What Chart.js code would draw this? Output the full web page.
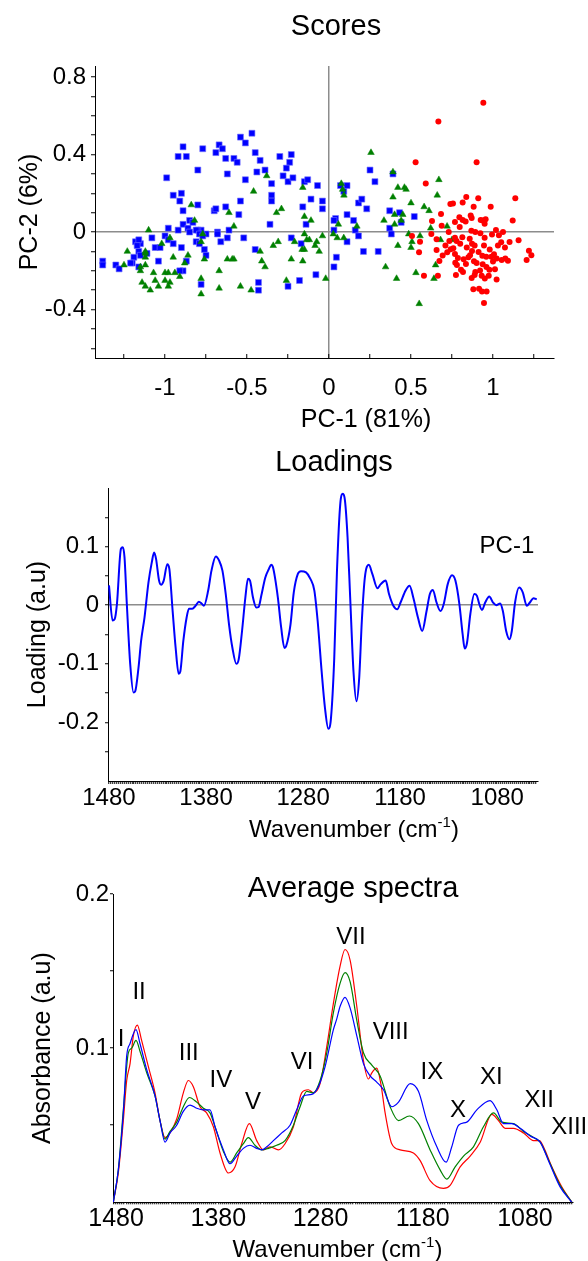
<!DOCTYPE html>
<html>
<head>
<meta charset="utf-8">
<script src="https://cdn.jsdelivr.net/npm/chart.js@4.4.1/dist/chart.umd.min.js"></script>
<style>
  body{margin:0;background:#fff;}
  canvas{position:absolute;left:0;}
</style>
</head>
<body>
<canvas id="scores" width="588" height="440" style="top:0"></canvas>
<canvas id="loadings" width="588" height="410" style="top:440px"></canvas>
<canvas id="spectra" width="588" height="411" style="top:850px"></canvas>
<script>
const FONT = '"Liberation Sans", Arial, sans-serif';

// ---- Scores (PC-1, PC-2) ----
const blueScores = [[-0.47,0.51],[-0.54,0.49],[-0.51,0.46],[-0.67,0.45],[-0.65,0.43],[-0.69,0.41],[-0.77,0.43],[-0.89,0.44],[-0.92,0.39],[-0.87,0.39],[-0.63,0.38],[-0.58,0.38],[-0.56,0.36],[-0.45,0.41],[-0.42,0.37],[-0.39,0.32],[-0.44,0.31],[-0.62,0.30],[-0.80,0.32],[-0.99,0.28],[-0.51,0.27],[-0.30,0.39],[-0.23,0.40],[-0.24,0.36],[-0.26,0.33],[-0.28,0.29],[-0.25,0.26],[-0.22,0.28],[-0.15,0.26],[-0.13,0.27],[-0.07,0.24],[-0.35,0.25],[-0.35,0.19],[-0.35,0.16],[-0.11,0.17],[-0.04,0.16],[-0.04,0.12],[-0.16,0.13],[-0.95,0.19],[-0.90,0.20],[-0.91,0.16],[-0.89,0.11],[-0.80,0.14],[-0.70,0.11],[-0.69,0.12],[-0.63,0.13],[-0.54,0.16],[-0.55,0.09],[-0.36,0.04],[-0.14,0.04],[-0.17,-0.06],[-0.23,-0.03],[-0.52,-0.03],[-0.45,-0.09],[-0.62,-0.03],[-0.66,-0.05],[-0.68,0.00],[-0.68,-0.01],[-0.61,0.01],[-0.75,-0.01],[-0.76,-0.09],[-0.75,-0.12],[-0.78,0.01],[-0.80,0.01],[-0.81,0.01],[-0.85,0.06],[-0.83,0.05],[-0.89,0.04],[-0.86,0.02],[-0.85,0.00],[-0.92,0.01],[-0.98,0.02],[-1.00,-0.02],[-0.98,-0.04],[-0.95,-0.06],[-0.90,-0.08],[-1.08,-0.03],[-1.15,-0.06],[-1.18,-0.05],[-1.16,-0.04],[-1.17,-0.07],[-1.16,-0.10],[-1.15,-0.12],[-1.11,-0.11],[-1.19,-0.13],[-1.20,-0.16],[-1.21,-0.16],[-1.16,-0.18],[-1.06,-0.08],[-1.03,-0.08],[-1.04,-0.15],[-1.38,-0.15],[-1.38,-0.17],[-1.30,-0.17],[-1.28,-0.19],[-0.87,-0.15],[-0.89,-0.20],[-0.91,-0.20],[-0.78,-0.27],[-0.43,-0.26],[-0.43,-0.30],[-0.25,-0.28],[-0.18,-0.25],[-0.08,-0.22],[-0.81,-0.05],[-0.79,-0.06],[-0.79,-0.01],[-0.77,-0.02],
  [0.25,0.32],[0.28,0.26],[0.39,0.30],[0.07,0.24],[0.11,0.24],[0.09,0.21],[0.18,0.15],[0.20,0.17],[0.23,0.12],[0.11,0.09],[0.04,0.07],[0.03,0.06],[0.03,0.01],[0.15,0.06],[0.16,0.01],[0.18,-0.02],[0.11,-0.05],[0.37,0.11],[0.43,0.10],[0.44,0.05],[0.37,0.02],[0.38,-0.01],[0.52,0.08],[0.21,-0.10],[0.30,-0.10],[0.045,-0.13],[0.03,-0.18]];
const greenScores = [[-0.38,0.29],[-0.46,0.21],[-0.16,0.23],[-0.84,0.14],[-0.61,0.10],[-0.29,0.12],[-0.32,0.10],[-0.15,0.08],[-0.11,0.06],[-0.82,0.06],[-0.58,0.03],[-1.10,0.01],[-0.97,-0.03],[-0.77,-0.01],[-0.78,-0.05],[-0.15,-0.01],[-0.04,-0.02],[-0.21,-0.05],[-0.34,-0.07],[-0.31,-0.05],[-0.136,-0.04],[-0.12,-0.04],[-0.075,-0.05],[-0.085,-0.07],[-0.06,-0.10],[-0.164,-0.09],[-0.15,-0.09],[-0.16,-0.15],[-0.23,-0.14],[-1.23,-0.10],[-1.12,-0.10],[-1.12,-0.11],[-1.12,-0.13],[-1.02,-0.06],[-0.95,-0.13],[-0.86,-0.12],[-1.25,-0.17],[-1.15,-0.18],[-1.15,-0.20],[-1.12,-0.17],[-1.07,-0.21],[-1.00,-0.21],[-0.98,-0.21],[-0.94,-0.21],[-0.91,-0.23],[-0.88,-0.16],[-0.76,-0.14],[-0.62,-0.14],[-0.59,-0.14],[-0.58,-0.14],[-0.42,-0.10],[-0.41,-0.15],[-0.39,-0.18],[-0.67,-0.20],[-0.78,-0.24],[-1.14,-0.26],[-1.06,-0.25],[-1.00,-0.25],[-0.97,-0.26],[-1.12,-0.28],[-1.09,-0.30],[-1.04,-0.28],[-0.98,-0.28],[-0.78,-0.32],[-0.67,-0.29],[-0.54,-0.28],[-0.475,-0.30],[-0.26,-0.25],[-0.02,-0.24],
  [0.256,0.41],[0.39,0.31],[0.075,0.25],[0.083,0.22],[0.091,0.19],[0.42,0.23],[0.46,0.23],[0.47,0.22],[0.67,0.27],[0.66,0.19],[0.39,0.18],[0.50,0.15],[0.58,0.13],[0.61,0.11],[0.40,0.09],[0.45,0.09],[0.44,0.06],[0.335,0.06],[0.40,0.04],[0.17,0.03],[0.057,0.04],[0.62,0.02],[0.72,0.03],[0.026,-0.01],[0.05,-0.03],[0.09,-0.03],[0.486,-0.01],[0.506,-0.05],[0.555,-0.02],[0.68,-0.04],[0.75,-0.04],[0.42,-0.07],[0.50,-0.08],[0.65,-0.17],[0.345,-0.18],[0.53,-0.21],[0.412,-0.24],[0.64,-0.24],[0.55,-0.37]];
const redScores = [[0.941,0.667],[0.667,0.571],[0.528,0.36],[0.90,0.36],[0.59,0.25],[1.136,0.174],[0.837,0.181],[0.91,0.174],[0.74,0.145],[0.756,0.148],[0.815,0.153],[0.882,0.131],[0.986,0.131],[0.683,0.093],[0.864,0.086],[0.87,0.072],[0.628,0.057],[0.687,0.033],[0.768,0.052],[0.795,0.076],[0.815,0.062],[0.833,0.054],[0.925,0.062],[0.937,0.06],[0.955,0.066],[0.949,0.043],[1.12,0.06],[0.624,-0.01],[0.73,0.0],[0.797,0.026],[0.868,0.007],[0.892,0.0],[0.923,-0.006],[0.949,-0.03],[0.994,-0.013],[1.018,0.011],[1.036,-0.016],[1.061,0.0],[0.506,-0.02],[0.555,-0.05],[0.656,-0.037],[0.734,-0.046],[0.768,-0.029],[0.778,-0.046],[0.813,-0.027],[0.858,-0.035],[0.872,-0.061],[0.888,-0.07],[0.945,-0.07],[1.05,-0.053],[1.101,-0.051],[1.156,-0.042],[1.073,-0.08],[0.549,-0.104],[0.656,-0.092],[0.693,-0.121],[0.721,-0.104],[0.742,-0.089],[0.758,-0.084],[0.768,-0.113],[0.786,-0.134],[0.821,-0.141],[0.85,-0.13],[0.872,-0.098],[0.912,-0.103],[0.935,-0.122],[0.959,-0.127],[0.99,-0.127],[1.006,-0.115],[1.022,-0.137],[1.053,-0.144],[1.075,-0.137],[1.091,-0.148],[0.673,-0.149],[0.77,-0.158],[0.835,-0.165],[0.884,-0.151],[0.937,-0.166],[1.0,-0.152],[0.978,-0.195],[1.012,-0.192],[0.805,-0.194],[0.817,-0.206],[0.892,-0.206],[0.921,-0.199],[0.774,-0.221],[0.888,-0.221],[0.87,-0.237],[0.931,-0.226],[0.974,-0.226],[1.022,-0.245],[0.579,-0.225],[0.664,-0.225],[0.88,-0.295],[0.915,-0.292],[0.933,-0.307],[0.961,-0.307],[0.945,-0.366],[1.219,-0.096],[1.234,-0.12],[1.205,-0.144],
  [0.80,-0.06],[0.84,-0.08],[0.90,-0.16],[0.96,-0.18],[0.86,-0.12],[0.98,-0.09],[1.03,-0.07],[0.78,-0.17],[0.95,-0.24],[0.71,-0.07]];
const scoreXLabels = [-1, -0.5, 0, 0.5, 1];
const scoreYLabels = [-0.4, 0, 0.4, 0.8];

// ---- PC-1 loading vs wavenumber ----
const loadingPC1 = [[1480,0.034],[1476.3,-0.026],[1474.2,-0.024],[1471.8,0.002],[1467.7,0.096],[1465.7,0.099],[1464,0.082],[1461.6,0.002],[1458.1,-0.101],[1454.7,-0.149],[1453,-0.147],[1449.6,-0.107],[1446.9,-0.061],[1443.4,-0.021],[1439.3,0.039],[1435.9,0.073],[1433.5,0.090],[1431.5,0.079],[1428.4,0.042],[1426.3,0.035],[1423.6,0.042],[1419.9,0.070],[1417.8,0.062],[1414.4,-0.010],[1411.3,-0.073],[1408.2,-0.117],[1406.5,-0.113],[1403.4,-0.061],[1400,-0.021],[1397.6,-0.006],[1394.2,-0.006],[1390.8,-0.001],[1387.4,0.006],[1384.6,0.003],[1382.2,-0.001],[1377.8,0.025],[1374.4,0.059],[1369.9,0.083],[1366.5,0.076],[1363.1,0.059],[1359.7,0.019],[1356.3,-0.033],[1352.8,-0.073],[1348.8,-0.100],[1346.3,-0.092],[1342.9,-0.044],[1339.5,0.013],[1336.8,0.045],[1334.7,0.042],[1331.6,0.013],[1328.2,-0.004],[1325.8,-0.003],[1323.1,0.016],[1319,0.047],[1315.2,0.062],[1312.8,0.069],[1311.1,0.065],[1306,0.013],[1302.6,-0.038],[1299.2,-0.073],[1297.5,-0.070],[1293,-0.033],[1289.6,0.022],[1285.5,0.053],[1282.1,0.058],[1277,0.056],[1272.5,0.045],[1268.4,0.025],[1265,-0.027],[1260.9,-0.113],[1257.5,-0.175],[1254,-0.211],[1251.3,-0.193],[1247.9,-0.090],[1245.1,0.059],[1241.7,0.173],[1239,0.190],[1236.9,0.179],[1234.2,0.116],[1231.5,0.013],[1228.1,-0.113],[1225,-0.164],[1222.2,-0.124],[1219.5,-0.027],[1216.4,0.047],[1212.3,0.069],[1208.6,0.053],[1203.4,0.029],[1200,0.036],[1194.9,0.042],[1191.5,0.019],[1187,-0.001],[1183,-0.007],[1179.5,0.005],[1174.4,0.025],[1170.3,0.033],[1166.5,0.013],[1161.7,-0.021],[1157.3,-0.044],[1152.8,-0.010],[1149.4,0.019],[1146.3,0.026],[1142.6,0.005],[1138.5,-0.010],[1135.1,0.002],[1131,0.036],[1126.5,0.051],[1123.1,0.042],[1119,0.002],[1115.6,-0.050],[1113.5,-0.074],[1111.1,-0.064],[1107.7,-0.015],[1103.6,0.019],[1100.9,0.016],[1098.5,0.002],[1095.7,-0.008],[1092.3,0.005],[1088.2,0.015],[1084.5,0.005],[1081.1,0.0],[1077,0.003],[1074.2,-0.010],[1070.8,-0.044],[1067.4,-0.058],[1065,-0.044],[1061.6,0.005],[1057.5,0.030],[1053.7,0.022],[1049.6,-0.001],[1046.2,0.005],[1042.7,0.012],[1039.3,0.010]];
const loadYLabels = [-0.2, -0.1, 0, 0.1];
const wnLabels = [1480, 1380, 1280, 1180, 1080];

// ---- Average spectra ----
const specBlue = [[1482.7,0],[1477.8,0.021],[1472.9,0.058],[1469.6,0.095],[1466.3,0.103],[1460.5,0.112],[1456.6,0.103],[1450,0.086],[1441.9,0.069],[1437,0.053],[1432.1,0.039],[1427.2,0.045],[1420.7,0.050],[1414.2,0.059],[1407.6,0.063],[1401.1,0.061],[1394.6,0.060],[1388.1,0.060],[1383.2,0.049],[1375,0.034],[1368.5,0.025],[1362,0.030],[1355.5,0.035],[1349,0.037],[1342.4,0.035],[1337.5,0.034],[1332.6,0.036],[1326.1,0.040],[1317.9,0.045],[1309.8,0.050],[1303.3,0.060],[1296.7,0.069],[1288.6,0.070],[1282.1,0.075],[1275.5,0.088],[1267.4,0.112],[1264.1,0.119],[1260.9,0.127],[1256,0.133],[1251,0.126],[1244.5,0.108],[1238,0.090],[1231.5,0.082],[1225,0.078],[1218.4,0.073],[1210.3,0.062],[1203.7,0.065],[1192.3,0.077],[1184.2,0.072],[1176,0.053],[1166.2,0.036],[1157.1,0.026],[1151.6,0.036],[1145,0.050],[1136.9,0.052],[1127.1,0.060],[1114.1,0.066],[1107.5,0.060],[1101,0.051],[1092.8,0.051],[1084.7,0.048],[1074.9,0.043],[1065.1,0.039],[1057,0.027],[1045.6,0.010],[1034.1,0]];
const specGreen = [[1482.7,0],[1477.8,0.021],[1472.9,0.060],[1468,0.097],[1464.7,0.100],[1460.5,0.105],[1456.6,0.098],[1450,0.084],[1441.9,0.069],[1437,0.053],[1432.1,0.041],[1427.2,0.046],[1420.7,0.052],[1414.2,0.062],[1408.3,0.068],[1401.1,0.065],[1394.6,0.061],[1388.1,0.058],[1383.2,0.049],[1375,0.033],[1368.5,0.026],[1362,0.032],[1355.5,0.038],[1350.6,0.042],[1344.1,0.037],[1337.5,0.034],[1331,0.035],[1322.9,0.037],[1314.7,0.040],[1306.5,0.050],[1300,0.062],[1293.5,0.072],[1287,0.071],[1280.4,0.079],[1273.9,0.097],[1267.4,0.123],[1260.9,0.142],[1256,0.149],[1251,0.143],[1244.5,0.118],[1238,0.097],[1229.8,0.089],[1221.7,0.082],[1211.9,0.062],[1203.7,0.053],[1193,0.056],[1184.2,0.051],[1172.8,0.034],[1163,0.021],[1156.4,0.015],[1148.3,0.023],[1140.1,0.030],[1130.4,0.036],[1120.6,0.049],[1110.8,0.058],[1102.6,0.052],[1091.2,0.051],[1081.4,0.046],[1071.6,0.042],[1065.1,0.039],[1055.3,0.025],[1045.6,0.011],[1034.1,0]];
const specRed = [[1482.7,0],[1477.8,0.019],[1472.9,0.053],[1469.6,0.079],[1466.3,0.090],[1463.1,0.108],[1459.2,0.115],[1455,0.105],[1448.4,0.088],[1441.9,0.071],[1437,0.053],[1432.1,0.042],[1427.2,0.045],[1420.7,0.054],[1414.2,0.071],[1409.3,0.079],[1404.4,0.075],[1397.9,0.062],[1391.4,0.058],[1384.8,0.049],[1378.3,0.032],[1370.1,0.019],[1363.6,0.023],[1357.1,0.038],[1349.6,0.051],[1342.4,0.040],[1335.9,0.034],[1329.4,0.036],[1321.2,0.034],[1314.7,0.038],[1306.5,0.049],[1298.4,0.071],[1291.9,0.073],[1287,0.071],[1280.4,0.077],[1273.9,0.101],[1267.4,0.129],[1260.9,0.153],[1256,0.164],[1251,0.157],[1244.5,0.127],[1238,0.092],[1233.1,0.080],[1229.8,0.084],[1225,0.087],[1221,0.077],[1216.8,0.058],[1210.3,0.038],[1202.1,0.034],[1189.1,0.032],[1182.5,0.027],[1172.8,0.014],[1159.7,0.009],[1153.2,0.011],[1143.4,0.023],[1133.6,0.030],[1123.8,0.039],[1112.4,0.057],[1105.9,0.053],[1099.4,0.048],[1091.2,0.048],[1081.4,0.045],[1071.6,0.040],[1065.8,0.040],[1061.9,0.036],[1053.7,0.023],[1044,0.010],[1034.1,0]];
const specYLabels = [0.1, 0.2];
const bandNames = ['I','II','III','IV','V','VI','VII','VIII','IX','X','XI','XII','XIII'];
const bandWn  = [1475, 1457.5, 1408.9, 1377.5, 1346, 1298, 1250.3, 1211.4, 1171.1, 1145.4, 1113, 1066, 1036.7];
const bandAbs = [0.106, 0.136, 0.0965, 0.079, 0.065, 0.091, 0.172, 0.110, 0.0846, 0.0594, 0.081, 0.0658, 0.0489];

// helpers
function tickRange(from, to, step){
  const out = [], n = Math.round((to - from) / step);
  for(let i = 0; i <= n; i++) out.push({ value: +(from + i * step).toFixed(6) });
  return out;
}
function labelOnly(list){
  return v => list.some(l => Math.abs(l - v) < 1e-6) ? String(+(+v).toFixed(3)) : "";
}
const xy = arr => arr.map(([x, y]) => ({ x, y }));
const zeroGrid = (show) => ({
  drawOnChartArea: true,
  color: c => (show && c.tick && Math.abs(c.tick.value) < 1e-9) ? "#8c8c8c" : "rgba(0,0,0,0)",
  lineWidth: 1.5, tickColor: "#000", tickWidth: 1
});

// text drawn on the canvas: titles, axis titles with superscript, band labels
const panelText = {
  id: "panelText",
  afterDraw(chart, args, opts){
    const ctx = chart.ctx;
    ctx.save();
    ctx.fillStyle = "#000";
    ctx.textBaseline = "middle";
    (opts.items || []).forEach(t => {
      let x = t.x, y = t.y;
      if(t.wn !== undefined){
        x = chart.scales.x.getPixelForValue(t.wn);
        y = chart.scales.y.getPixelForValue(t.v);
      }
      ctx.font = t.size + "px " + FONT;
      if(t.sup){
        const a = t.text, b = t.sup, c = t.after;
        const wa = ctx.measureText(a).width, wc = ctx.measureText(c).width;
        ctx.font = Math.round(t.size * 0.62) + "px " + FONT;
        const wb = ctx.measureText(b).width;
        let sx = x - (wa + wb + wc) / 2;
        ctx.textAlign = "left";
        ctx.font = t.size + "px " + FONT;
        ctx.fillText(a, sx, y);
        ctx.font = Math.round(t.size * 0.62) + "px " + FONT;
        ctx.fillText(b, sx + wa, y - t.size * 0.3);
        ctx.font = t.size + "px " + FONT;
        ctx.fillText(c, sx + wa + wb, y);
      } else {
        ctx.textAlign = "center";
        ctx.fillText(t.text, x, y);
      }
    });
    ctx.restore();
  }
};
Chart.register(panelText);
Chart.defaults.font.family = FONT;
Chart.defaults.color = "#000";

// Scores
new Chart(document.getElementById("scores"), {
  type: "scatter",
  data: { datasets: [
    { data: xy(redScores), pointStyle: "circle", pointRadius: 3, backgroundColor: "#ff0000", borderColor: "#ff0000", borderWidth: 0 },
    { data: xy(greenScores), pointStyle: "triangle", pointRadius: 3.8, backgroundColor: "#008000", borderColor: "#008000", borderWidth: 0.5 },
    { data: xy(blueScores), pointStyle: "rect", pointRadius: 4.2, backgroundColor: "#0000ff", borderColor: "rgba(110,110,255,0.6)", borderWidth: 1 }
  ]},
  options: {
    responsive: false, animation: false,
    layout: { padding: { left: 0, right: 34, top: 66, bottom: 32 } },
    plugins: { legend: { display: false }, tooltip: { enabled: false },
      panelText: { items: [
        { text: "Scores", x: 336, y: 27, size: 29 },
        { text: "PC-1 (81%)", x: 366, y: 420, size: 25 }
      ]}
    },
    scales: {
      x: { type: "linear", min: -1.427, max: 1.372,
        afterBuildTicks: s => { s.ticks = tickRange(-1.25, 1.25, 0.25); },
        afterFit: s => { s.height = 50; },
        ticks: { autoSkip: false, maxRotation: 0, minRotation: 0, padding: 19.6, font: { size: 24 }, callback: labelOnly(scoreXLabels) },
        grid: Object.assign(zeroGrid(true), { tickLength: -4 }),
        border: { color: "#000", width: 1 }
      },
      y: { type: "linear", min: -0.65, max: 0.857,
        afterBuildTicks: s => { s.ticks = tickRange(-0.6, 0.8, 0.1); },
        afterFit: s => { s.width = 95; },
        ticks: { autoSkip: false, padding: 5, font: { size: 24 }, callback: labelOnly(scoreYLabels) },
        grid: Object.assign(zeroGrid(true), { tickLength: 4 }),
        border: { color: "#000", width: 1 },
        title: { display: true, text: "PC-2 (6%)", font: { size: 25 }, padding: { top: 15, bottom: 0 } }
      }
    }
  }
});

// Loadings
new Chart(document.getElementById("loadings"), {
  type: "line",
  data: { datasets: [
    { data: xy(loadingPC1), borderColor: "#0000ff", borderWidth: 2, pointRadius: 0, cubicInterpolationMode: "monotone", fill: false }
  ]},
  options: {
    responsive: false, animation: false,
    layout: { padding: { left: 0, right: 50, top: 48, bottom: 19 } },
    plugins: { legend: { display: false }, tooltip: { enabled: false },
      panelText: { items: [
        { text: "Loadings", x: 334, y: 23, size: 29 },
        { text: "PC-1", wn: 1070, v: 0.1, size: 24 },
        { text: "Wavenumber (cm", sup: "-1", after: ")", x: 354, y: 390, size: 24 }
      ]}
    },
    scales: {
      x: { type: "linear", reverse: true, min: 1038, max: 1481,
        afterBuildTicks: s => { s.ticks = tickRange(1040, 1480, 2); },
        afterFit: s => { s.height = 50; },
        ticks: { autoSkip: false, maxRotation: 0, minRotation: 0, padding: 0, font: { size: 24 }, callback: labelOnly(wnLabels) },
        grid: Object.assign(zeroGrid(false), { tickLength: 3 }),
        border: { color: "#000", width: 1 }
      },
      y: { type: "linear", min: -0.3, max: 0.2,
        afterBuildTicks: s => { s.ticks = tickRange(-0.25, 0.15, 0.05); },
        afterFit: s => { s.width = 108; },
        ticks: { autoSkip: false, padding: 6, font: { size: 24 }, callback: labelOnly(loadYLabels) },
        grid: Object.assign(zeroGrid(true), { tickLength: 3 }),
        border: { color: "#000", width: 1 },
        title: { display: true, text: "Loading (a.u)", font: { size: 25 }, padding: { top: 23, bottom: 0 } }
      }
    }
  }
});

// Average spectra
new Chart(document.getElementById("spectra"), {
  type: "line",
  data: { datasets: [
    { data: xy(specBlue), borderColor: "#0000ff", borderWidth: 1.2, pointRadius: 0, cubicInterpolationMode: "monotone" },
    { data: xy(specGreen), borderColor: "#008000", borderWidth: 1.2, pointRadius: 0, cubicInterpolationMode: "monotone" },
    { data: xy(specRed), borderColor: "#ff0000", borderWidth: 1.2, pointRadius: 0, cubicInterpolationMode: "monotone" }
  ]},
  options: {
    responsive: false, animation: false,
    layout: { padding: { left: 0, right: 15, top: 44, bottom: 18.7 } },
    plugins: { legend: { display: false }, tooltip: { enabled: false },
      panelText: { items: [
        { text: "Average spectra", x: 353, y: 39, size: 29 },
        { text: "Wavenumber (cm", sup: "-1", after: ")", x: 337.5, y: 400, size: 24 }
      ].concat(bandNames.map((n, i) => ({ text: n, wn: bandWn[i], v: bandAbs[i], size: 24 }))) }
    },
    scales: {
      x: { type: "linear", reverse: true, min: 1033, max: 1483,
        afterBuildTicks: s => { s.ticks = tickRange(1034, 1482, 2); },
        afterFit: s => { s.height = 40; },
        ticks: { autoSkip: false, maxRotation: 0, minRotation: 0, padding: 0, font: { size: 25 }, callback: labelOnly(wnLabels) },
        grid: Object.assign(zeroGrid(false), { tickLength: 2 }),
        border: { color: "#000", width: 1 }
      },
      y: { type: "linear", min: 0, max: 0.2,
        afterBuildTicks: s => { s.ticks = tickRange(0.05, 0.2, 0.05); },
        afterFit: s => { s.width = 113; },
        ticks: { autoSkip: false, padding: 1, font: { size: 24 }, callback: labelOnly(specYLabels) },
        grid: Object.assign(zeroGrid(false), { tickLength: 3 }),
        border: { color: "#000", width: 1 },
        title: { display: true, text: "Absorbance (a.u)", font: { size: 25 }, padding: { top: 28, bottom: 0 } }
      }
    }
  }
});
</script>
</body>
</html>
